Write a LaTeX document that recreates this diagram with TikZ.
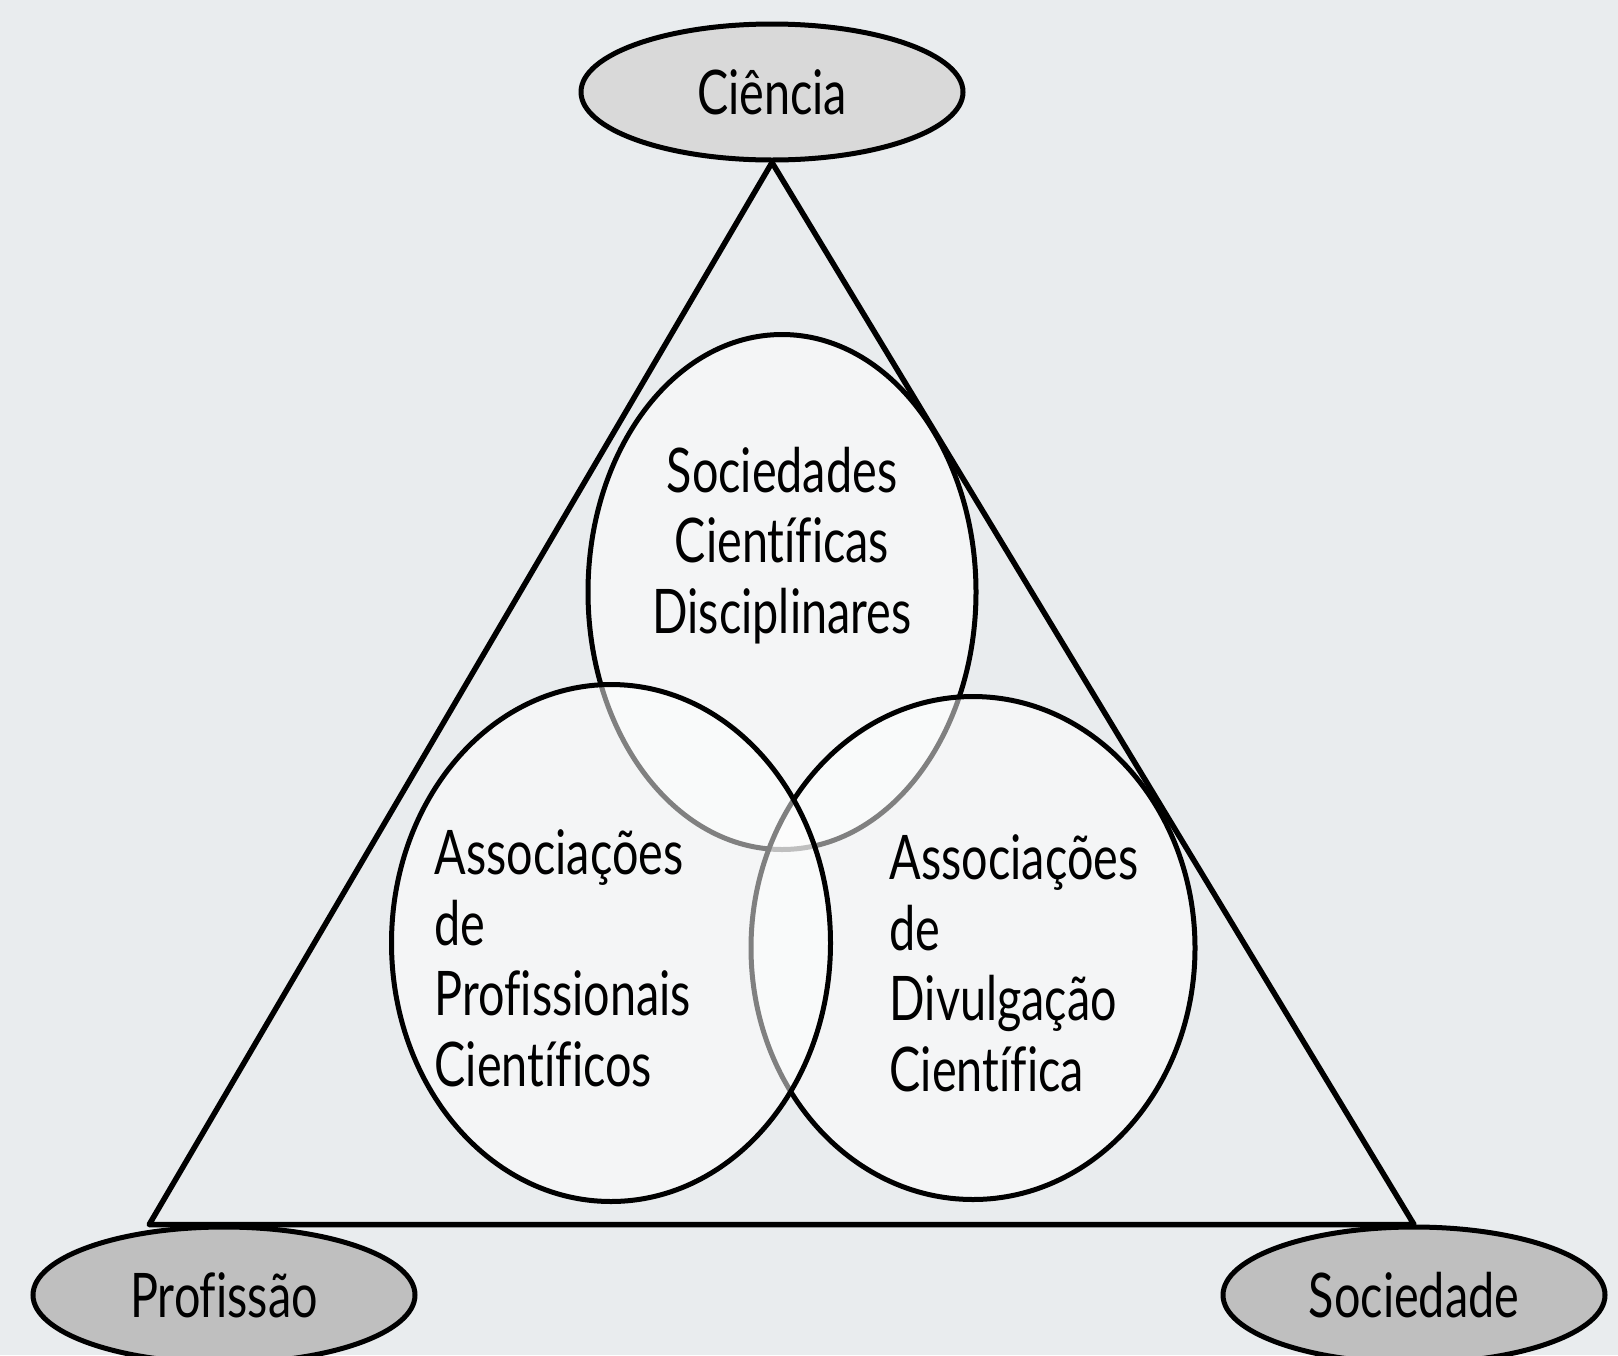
\documentclass[tikz,border=0pt]{standalone}
\usepackage{fontspec}
\setmainfont[FakeStretch=0.76, Ligatures=NoCommon]{Lato}
\usetikzlibrary{shapes.geometric}
\definecolor{bgcol}{HTML}{E9ECEE}
\definecolor{topfill}{HTML}{D9D9D9}
\definecolor{basefill}{HTML}{BFBFBF}
\tikzset{
    txt/.style={inner sep=0pt, font=\fontsize{17.5pt}{20.1pt}\selectfont},
    pole/.style={ellipse, draw, line width=0.5mm, inner sep=0pt, minimum width=38.2mm, minimum height=13.6mm, txt},
    assoc/.style={ellipse, draw, line width=0.5mm, fill=white, fill opacity=0.5},
    edge/.style={line width=0.55mm, line join=round}
}
\begin{document}
\begin{tikzpicture}[x=0.1mm, y=-0.1mm]
    \fill [bgcol] (0, 0) rectangle (1618, 1355);
    \useasboundingbox (0, 0) rectangle (1618, 1355);
    % associations
    \node [assoc, minimum width=38.8mm, minimum height=51.5mm] (sdc) at (782, 592) {};
    \node [assoc, minimum width=44.4mm, minimum height=50.3mm] (adc) at (973, 948) {};
    \node [assoc, minimum width=43.9mm, minimum height=51.7mm] (apc) at (611, 943) {};
    % poles
    \node [pole, fill=topfill] (cien) at (772, 92) {Ciência};
    \node [pole, fill=basefill] (prof) at (224, 1295) {Profissão};
    \node [pole, fill=basefill] (soc) at (1414, 1295) {Sociedade};
    \draw [edge] (cien.south) -- (prof.139 |- soc.north) -- (soc.north) -- cycle;
    \node [txt, align=center, anchor=north] (sdctxt) at (782, 446) {Sociedades\\Científicas\\Disciplinares};
    \node [txt, align=left, anchor=north west] (apctxt) at (434, 829) {Associações\\de\\Profissionais\\Científicos};
    \node [txt, align=left, anchor=north west] (adctxt) at (889, 834) {Associações\\de\\Divulgação\\Científica};
\end{tikzpicture}
\end{document}
